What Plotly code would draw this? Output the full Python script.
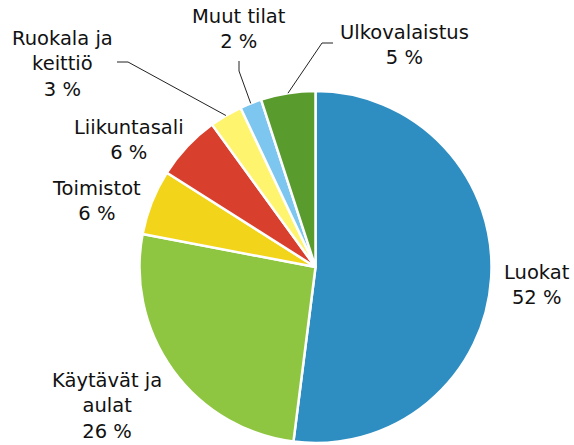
import math
import plotly.graph_objects as go

labels = ["Luokat", "Käytävät ja aulat", "Toimistot", "Liikuntasali",
          "Ruokala ja keittiö", "Muut tilat", "Ulkovalaistus"]
values = [52, 26, 6, 6, 3, 2, 5]
label_text = ["Luokat<br>52 %", "Käytävät ja<br>aulat<br>26 %", "Toimistot<br>6 %",
              "Liikuntasali<br>6 %", "Ruokala ja<br>keittiö<br>3 %", "Muut tilat<br>2 %",
              "Ulkovalaistus<br>5 %"]
colors = ["#2E8DC1", "#8FC641", "#F2D51B", "#D93F2D", "#FFF46E", "#7DC6EF", "#5A9B2E"]

W, H = 574, 445
CX, CY, R = 315.5, 267, 176

# label centres (pixels)
label_pos = [(537, 285), (107, 406), (96, 201), (129, 140), (62, 64), (239, 29), (404, 45)]
# leader line start points (pixels): list of points before the slice edge
leader_start = {4: [(117, 62), (128, 62)], 5: [(239, 61), (239, 71)], 6: [(333, 43), (322, 43)]}


def px(x, y):
    return x / W, 1 - y / H


fig = go.Figure(go.Pie(
    labels=labels, values=values, sort=False, direction="clockwise", rotation=0,
    marker=dict(colors=colors, line=dict(color="white", width=2.5)),
    textinfo="none", hoverinfo="label+percent", showlegend=False,
    domain=dict(x=[(CX - R) / W, (CX + R) / W], y=[(H - CY - R) / H, (H - CY + R) / H]),
))

annotations = []
for txt, (x, y) in zip(label_text, label_pos):
    ax, ay = px(x, y)
    annotations.append(dict(x=ax, y=ay, xref="paper", yref="paper", text=txt,
                            showarrow=False, xanchor="center", yanchor="middle",
                            align="center", font=dict(size=19.5, color="#111")))

total = sum(values)
shapes = []
cum = 0
for i, v in enumerate(values):
    mid = (cum + v / 2) / total * 2 * math.pi
    cum += v
    if i in leader_start:
        ex = CX + R * math.sin(mid)
        ey = CY - R * math.cos(mid)
        pts = leader_start[i] + [(ex, ey)]
        path = ""
        for k, (x, y) in enumerate(pts):
            pxx, pyy = px(x, y)
            path += ("M" if k == 0 else " L") + f" {pxx:.5f},{pyy:.5f}"
        shapes.append(dict(type="path", path=path, xref="paper", yref="paper",
                           line=dict(color="#222", width=1)))

fig.update_layout(
    width=W, height=H, margin=dict(l=0, r=0, t=0, b=0),
    paper_bgcolor="white", plot_bgcolor="white",
    font=dict(family="DejaVu Sans", size=19.5, color="#111"),
    annotations=annotations, shapes=shapes,
)

fig.write_html("out.html", config={"displayModeBar": False},
               post_script="document.body.style.margin='0';document.body.style.padding='0';"
                           "document.documentElement.style.overflow='hidden';")
